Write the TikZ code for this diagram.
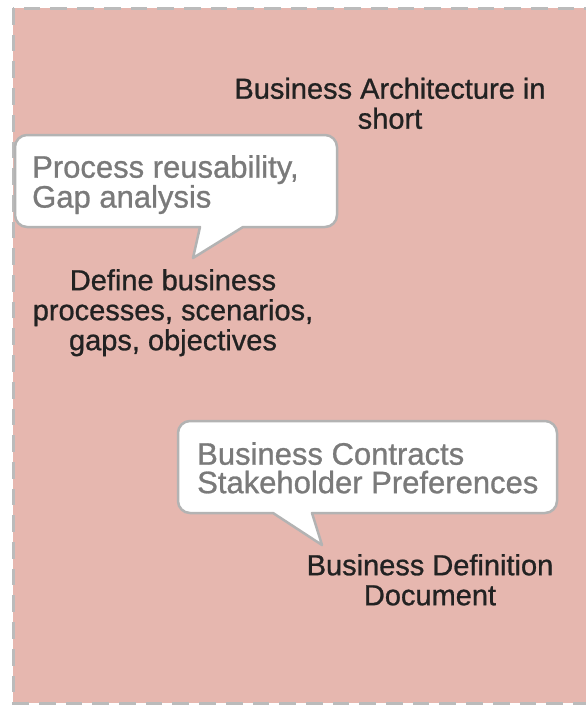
\documentclass[tikz,border=0pt]{standalone}
\usepackage{fontspec}
\setmainfont{Liberation Sans}[BoldFont=Liberation Sans, BoldFeatures={FakeBold=0.9}]
\definecolor{pinkfill}{HTML}{E6B7AF}
\definecolor{framegray}{HTML}{BBBBBB}
\definecolor{calloutgray}{HTML}{B3B3B3}
\definecolor{callouttext}{HTML}{7A7A7A}
\definecolor{maintext}{HTML}{222222}
\tikzset{
  frame/.style={draw=framegray, fill=pinkfill, line width=3pt, dash pattern=on 16.7pt off 10pt},
  calloutbox/.style={draw=calloutgray, fill=white, line width=2.5pt, line join=round},
  callouttxt/.style={inner sep=0pt, anchor=north west, align=left, text=callouttext,
    font=\fontsize{31}{28.5}\selectfont\bfseries},
  maintxt/.style={inner sep=0pt, anchor=north, align=center, text=maintext,
    font=\fontsize{29}{30}\selectfont\bfseries},
}
\begin{document}
\begin{tikzpicture}[x=1pt,y=-1pt]
\useasboundingbox (0,0) rectangle (586,705);
\begin{scope}
\clip (0,0) rectangle (586,705);
\draw[frame] (13,8) rectangle (640,703);
\end{scope}
% callout 1
\draw[calloutbox] (15,147) arc[start angle=180,end angle=270,radius=12]
  -- (325,135) arc[start angle=270,end angle=360,radius=12]
  -- (337,215) arc[start angle=0,end angle=90,radius=12]
  -- (243,227) -- (193,258) -- (200,227)
  -- (27,227) arc[start angle=90,end angle=180,radius=12] -- cycle;
% callout 2
\draw[calloutbox] (178,433) arc[start angle=180,end angle=270,radius=12]
  -- (545,421) arc[start angle=270,end angle=360,radius=12]
  -- (557,501) arc[start angle=0,end angle=90,radius=12]
  -- (312,513) -- (322,545) -- (273,513)
  -- (190,513) arc[start angle=90,end angle=180,radius=12] -- cycle;
\node[maintxt] (title) at (390,77.5) {Business Architecture in\\short};
\node[callouttxt] (c1) at (32,155) {Process reusability,\\Gap analysis};
\node[maintxt] (define) at (173,269) {Define business\\processes, scenarios,\\gaps, objectives};
\node[callouttxt] (c2) at (197,442) {Business Contracts\\Stakeholder Preferences};
\node[maintxt] (bdd) at (430,554) {Business Definition\\Document};
\end{tikzpicture}
\end{document}
